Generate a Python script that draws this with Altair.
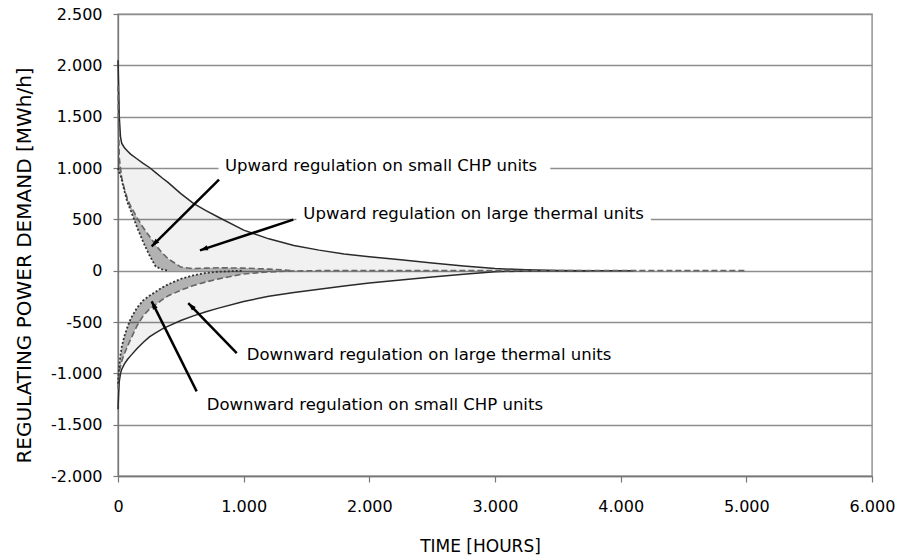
import math
import altair as alt
import pandas as pd

# ---------------- data ----------------
HOURS = [0, 5, 10, 20, 30, 50, 75, 100, 150, 200, 250, 300, 350, 400, 500, 600, 700,
         800, 1000, 1200, 1400, 1600, 1800, 2000, 2250, 2500, 2750, 3000, 3250, 3500,
         3750, 4000, 4100, 5000]

UP_TOTAL = [2050, 1800, 1500, 1300, 1240, 1200, 1165, 1135, 1090, 1045, 1005, 955, 905,
            858, 750, 655, 585, 520, 395, 310, 245, 200, 162, 136, 106, 75, 45, 20, 8, 2,
            0, 0, 0, 0]
UP_DASHED = [1800, 1400, 1100, 1000, 900, 800, 700, 630, 520, 420, 335, 250, 175, 115, 35,
             20, 25, 28, 25, 15, 0, 0, 0, 0, 0, 0, 0, 0, 0, 0, 0, 0, 0, 0]
UP_DOTTED = [1000, 980, 960, 930, 880, 780, 665, 590, 428, 280, 150, 40, 12, 0, 0, 0, 0,
             0, 0, 0, 0, 0, 0, 0, 0, 0, 0, 0, 0, 0, 0, 0, 0, 0]

DOWN_TOTAL = [-1350, -1200, -1080, -1000, -960, -910, -865, -830, -760, -700, -645, -605,
              -570, -540, -485, -440, -400, -365, -300, -250, -212, -180, -150, -120, -90,
              -62, -35, -10, -3, 0, 0, 0, 0, 0]
DOWN_DASHED = [-1150, -1050, -990, -930, -880, -810, -740, -670, -540, -440, -375, -330,
               -285, -245, -190, -145, -110, -80, -32, -12, -3, 0, 0, 0, 0, 0, 0, 0, 0, 0,
               0, 0, 0, 0]
DOWN_DOTTED = [-1100, -1000, -920, -820, -740, -640, -550, -470, -365, -290, -245, -205,
               -165, -133, -80, -45, -22, -10, 0, 0, 0, 0, 0, 0, 0, 0, 0, 0, 0, 0, 0, 0, 0, 0]

# how far each drawn line runs along the time axis
LINE_END = {"up_total": 3750, "up_dashed": 1400, "up_dotted": 400,
            "down_total": 4100, "down_dashed": 5000, "down_dotted": 1000}

LABELS = ["Upward regulation on small CHP units",
          "Upward regulation on large thermal units",
          "Downward regulation on large thermal units",
          "Downward regulation on small CHP units"]
LABEL_X = [851, 1475, 1024, 706]
LABEL_Y = [1023, 555, -818, -1305]
# white boxes behind the upward labels (hide the grid lines)
BOX_X1 = [800, 1420]
BOX_X2 = [3440, 4240]
BOX_Y1 = [930, 465]
BOX_Y2 = [1110, 645]

ARROW_X1 = [804, 1395, 945, 626]
ARROW_Y1 = [886, 497, -802, -1176]
ARROW_X2 = [268, 652, 559, 268]
ARROW_Y2 = [237, 198, -315, -299]

X_TICKS = [0, 1000, 2000, 3000, 4000, 5000, 6000]
Y_TICKS = [-2000, -1500, -1000, -500, 0, 500, 1000, 1500, 2000, 2500]

W, H = 754, 462
XDOM = [0, 6000]
YDOM = [-2000, 2500]
FONT = "DejaVu Sans"

# ---------------- tables ----------------
curves = {"up_total": UP_TOTAL, "up_dashed": UP_DASHED, "up_dotted": UP_DOTTED,
          "down_total": DOWN_TOTAL, "down_dashed": DOWN_DASHED, "down_dotted": DOWN_DOTTED}
rows = []
for name, vals in curves.items():
    for h, v in zip(HOURS, vals):
        if h <= LINE_END[name]:
            rows.append({"series": name, "style": name.split("_")[1], "hours": h, "value": v})
lines = pd.DataFrame(rows)

arows = []
for side, tot, dash, dot in [("up", UP_TOTAL, UP_DASHED, UP_DOTTED),
                             ("down", DOWN_TOTAL, DOWN_DASHED, DOWN_DOTTED)]:
    for h, t, da, do in zip(HOURS, tot, dash, dot):
        arows.append({"band": side + "_dark", "kind": "dark", "hours": h, "lo": do, "hi": da})
        arows.append({"band": side + "_light", "kind": "light", "hours": h, "lo": da, "hi": t})
areas = pd.DataFrame(arows)

labels = pd.DataFrame({"text": LABELS, "hours": LABEL_X, "value": LABEL_Y})
boxes = pd.DataFrame({"x1": BOX_X1, "x2": BOX_X2, "y1": BOX_Y1, "y2": BOX_Y2})

sx = W / (XDOM[1] - XDOM[0])
sy = H / (YDOM[1] - YDOM[0])
angles = []
for x1, y1, x2, y2 in zip(ARROW_X1, ARROW_Y1, ARROW_X2, ARROW_Y2):
    dx = (x2 - x1) * sx
    dy = -(y2 - y1) * sy
    angles.append(math.degrees(math.atan2(dx, -dy)) % 360)
arrows = pd.DataFrame({"x1": ARROW_X1, "y1": ARROW_Y1, "x2": ARROW_X2, "y2": ARROW_Y2,
                       "angle": angles})

xs = alt.Scale(domain=XDOM, nice=False, zero=False)
ys = alt.Scale(domain=YDOM, nice=False, zero=False)

num_expr = "(datum.value < 0 ? '-' : '') + replace(format(abs(datum.value), ','), ',', '.')"

X_TITLE = "TIME [HOURS]"
Y_TITLE = "REGULATING POWER DEMAND [MWh/h]"

x_axis = alt.Axis(values=X_TICKS, labelExpr=num_expr, title=X_TITLE,
                  grid=False, tickSize=6, labelPadding=16, labelFlush=False,
                  labelFont=FONT, labelFontSize=16, labelColor="#000",
                  titleFont=FONT, titleFontSize=17, titleFontWeight="normal",
                  titleColor="#000", titleX=362, titleY=70, titleAlign="center",
                  titleBaseline="middle", domainColor="#777", tickColor="#777",
                  domainWidth=1.3, tickWidth=1.2)
y_axis = alt.Axis(values=Y_TICKS, labelExpr=num_expr, title=Y_TITLE,
                  grid=True, gridColor="#8e8e8e", gridWidth=1.4, tickSize=5, labelPadding=11,
                  labelFont=FONT, labelFontSize=16, labelColor="#000",
                  titleFont=FONT, titleFontSize=20, titleFontWeight="normal",
                  titleColor="#000", titleX=-94, titleY=251, titleAngle=270,
                  titleAlign="center", titleBaseline="middle", domainColor="#777",
                  tickColor="#777", domainWidth=1.3, tickWidth=1.2)


def X(field):
    return alt.X(field, scale=xs, axis=x_axis, title=X_TITLE)


def Y(field):
    return alt.Y(field, scale=ys, axis=y_axis, title=Y_TITLE)


band_light = alt.Chart(areas).transform_filter(alt.datum.kind == "light").mark_area(
    color="black", opacity=0.055, interpolate="linear").encode(
    x=X("hours:Q"), y=Y("lo:Q"), y2="hi:Q", detail="band:N")

band_dark = alt.Chart(areas).transform_filter(alt.datum.kind == "dark").mark_area(
    color="black", opacity=0.30, interpolate="linear").encode(
    x=X("hours:Q"), y=Y("lo:Q"), y2="hi:Q", detail="band:N")

box_layer = alt.Chart(boxes).mark_rect(color="white").encode(
    x=X("x1:Q"), x2="x2:Q", y=Y("y1:Q"), y2="y2:Q")


def line_layer(style, **kw):
    return alt.Chart(lines).transform_filter(alt.datum.style == style).mark_line(**kw).encode(
        x=X("hours:Q"), y=Y("value:Q"), detail="series:N", order="hours:Q")


solid = line_layer("total", color="#2a2a2a", strokeWidth=1.5)
dashed = line_layer("dashed", color="#666", strokeWidth=1.6, strokeDash=[6, 3])
dotted = line_layer("dotted", color="#333", strokeWidth=1.8, strokeDash=[2, 2])

arrow_lines = alt.Chart(arrows).mark_rule(color="black", strokeWidth=2.5).encode(
    x=X("x1:Q"), y=Y("y1:Q"), x2="x2:Q", y2="y2:Q")
arrow_heads = alt.Chart(arrows).mark_point(
    shape="M0,0 L0.75,2.3 L-0.75,2.3 Z", filled=True, size=49, color="black",
    opacity=1, strokeWidth=0).encode(
    x=X("x2:Q"), y=Y("y2:Q"), angle=alt.Angle("angle:Q", scale=None))

texts = alt.Chart(labels).mark_text(align="left", baseline="middle", font=FONT,
                                    fontSize=16.5, color="#000").encode(
    x=X("hours:Q"), y=Y("value:Q"), text="text:N")

chart = alt.layer(band_light, band_dark, box_layer, solid, dashed, dotted,
                  arrow_lines, arrow_heads, texts).properties(
    width=W, height=H,
    padding={"left": 118, "top": 14, "right": 26, "bottom": 84},
    autosize=alt.AutoSizeParams(type="none"),
    background="white",
).configure_view(stroke="#8e8e8e", strokeWidth=1.4)

chart.save("out.html", embed_options={"renderer": "svg", "actions": False})
